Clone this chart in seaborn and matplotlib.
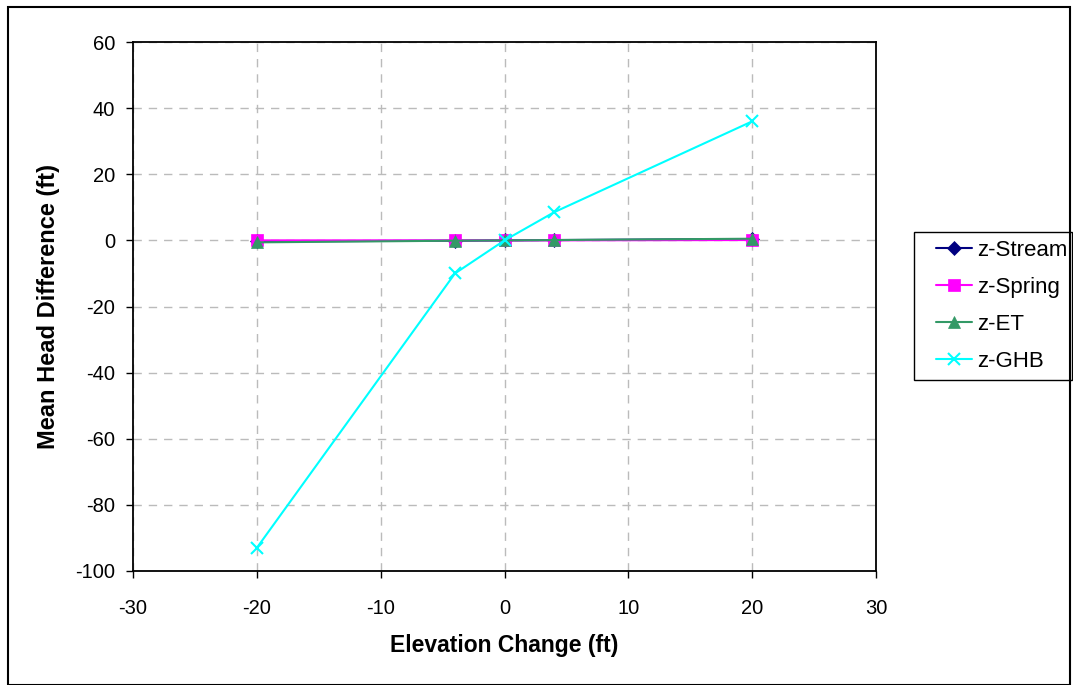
import matplotlib
matplotlib.use("Agg")
import matplotlib.pyplot as plt
import seaborn as sns
import pandas as pd
from matplotlib.patches import Rectangle

elevation = [-20, -4, 0, 4, 20]
z_stream = [-0.3, -0.1, 0.0, 0.1, 0.4]
z_spring = [0.0, 0.0, 0.0, 0.0, 0.1]
z_et = [-0.6, -0.1, 0.0, 0.1, 0.5]
z_ghb = [-93.0, -10.0, 0.0, 8.5, 36.0]

series_names = ["z-Stream", "z-Spring", "z-ET", "z-GHB"]
series_values = [z_stream, z_spring, z_et, z_ghb]
colors = ["#000080", "#FF00FF", "#339966", "#00FFFF"]
markers = ["D", "s", "^", "x"]
msizes = [7, 8, 9, 9]

x_ticks = [-30, -20, -10, 0, 10, 20, 30]
y_ticks = [-100, -80, -60, -40, -20, 0, 20, 40, 60]

sns.set_style("white")
plt.rcParams["font.family"] = ["Liberation Sans", "DejaVu Sans"]
plt.rcParams["axes.unicode_minus"] = False
plt.rcParams["text.color"] = "black"
plt.rcParams["axes.labelcolor"] = "black"
plt.rcParams["xtick.color"] = "black"
plt.rcParams["ytick.color"] = "black"

fig = plt.figure(figsize=(10.73, 6.85), dpi=100)
ax = fig.add_axes([133/1073, 1-571/685, (876-133)/1073, (571-42)/685])

for name, vals, c, m, ms in zip(series_names, series_values, colors, markers, msizes):
    df = pd.DataFrame({"x": elevation, "y": vals})
    sns.lineplot(data=df, x="x", y="y", ax=ax, color=c, marker=m, markersize=ms,
                 markeredgecolor=c, markeredgewidth=1.5 if m == "x" else 0.5,
                 linewidth=1.5, label=name, sort=False)

ax.set_xlim(-30, 30)
ax.set_ylim(-100, 60)
ax.set_xticks(x_ticks)
ax.set_yticks(y_ticks)
ax.tick_params(axis="both", which="major", bottom=True, left=True, labelsize=14.5,
               direction="out", length=5, width=1, color="black", labelcolor="black")
ax.tick_params(axis="x", pad=15)
ax.tick_params(axis="y", pad=8)
ax.grid(True, color="#BBBBBB", linestyle=(0, (6, 5)), linewidth=1)
for s in ax.spines.values():
    s.set_color("black")
    s.set_linewidth(1.3)
    s.set_visible(True)

ax.set_xlabel("Elevation Change (ft)", fontsize=16.5, fontweight="bold", labelpad=12)
ax.set_ylabel("Mean Head Difference (ft)", fontsize=17, fontweight="bold", labelpad=11)

leg = ax.legend(loc="center left", bbox_to_anchor=(936/1073, 1-306/685), bbox_transform=fig.transFigure,
                fontsize=16, frameon=False, borderpad=0.0,
                handlelength=1.6, labelspacing=0.72, handletextpad=0.25, borderaxespad=0)

fig.patches.append(Rectangle((914/1073, 1-380/685), (1072-914)/1073, (380-232)/685,
                             transform=fig.transFigure, fill=False, edgecolor="black", linewidth=1))

fig.patches.append(Rectangle((8/1073, 0), (1070-8)/1073, 1-7/685, transform=fig.transFigure,
                             fill=False, edgecolor="black", linewidth=1.5))

fig.savefig("out.png", dpi=100)
